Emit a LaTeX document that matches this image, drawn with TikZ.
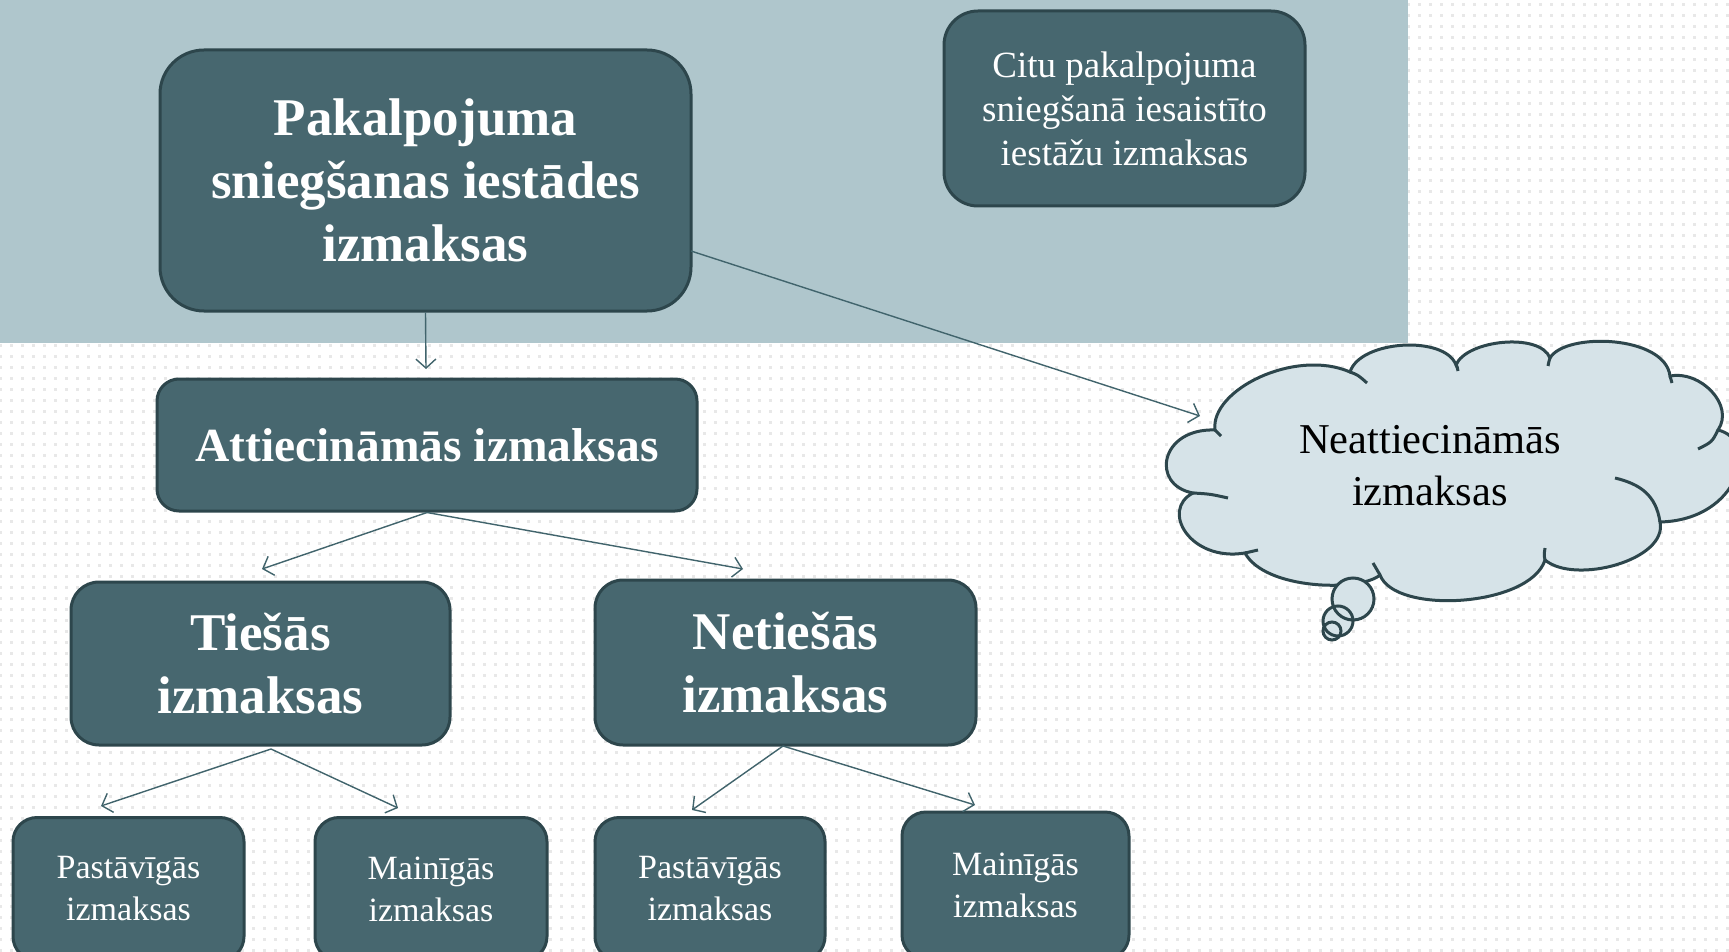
\documentclass[tikz,border=0pt]{standalone}
\usepackage{fontspec}
\setmainfont{Liberation Serif}
\usetikzlibrary{arrows.meta,patterns.meta}
\definecolor{boxfill}{HTML}{47676F}
\definecolor{boxline}{HTML}{2D464C}
\definecolor{band}{HTML}{AFC6CC}
\definecolor{cloudfill}{HTML}{D6E3E8}
\definecolor{arrowcol}{HTML}{41646C}
\tikzdeclarepattern{
  name=pxdots,
  type=uncolored,
  bottom left={(0pt,0pt)},
  top right={(11pt,11pt)},
  tile size={(11pt,11pt)},
  code={\pgfpathrectangle{\pgfpointorigin}{\pgfpoint{3pt}{3pt}}\pgfusepath{fill}}
}
\tikzset{
  costbox/.style={draw=boxline, line width=3pt, fill=boxfill, rounded corners=#1, text=white, align=center, inner sep=0pt},
  costbox/.default=24pt,
  bigtxt/.style={font=\fontsize{53}{63}\selectfont\bfseries},
  smalltxt/.style={font=\fontsize{34}{42}\selectfont},
  conn/.style={draw=arrowcol, line width=1.4pt, -{Straight Barb[length=9pt,width=20pt,line width=1.4pt]}},
  cloudline/.style={draw=boxline, line width=3pt},
}
\begin{document}
\begin{tikzpicture}[x=1pt,y=-1pt]
\useasboundingbox (0,0) rectangle (1729,952);
\fill[white] (0,0) rectangle (1729,952);
\fill[pattern=pxdots, pattern color=black!9] (0,0) rectangle (1729,952);
\fill[band] (0,0) rectangle (1408,343);

\node[costbox=44pt, bigtxt, minimum width=531pt, minimum height=261pt] (main) at (425.5,180.5)
  {Pakalpojuma\\ sniegšanas iestādes\\ izmaksas};
\node[costbox=34pt, font=\fontsize{37}{44}\selectfont, minimum width=361pt, minimum height=195pt] (citu) at (1124.5,108.5)
  {Citu pakalpojuma\\ sniegšanā iesaistīto\\ iestāžu izmaksas};
\node[costbox=22pt, font=\fontsize{47.5}{52}\selectfont\bfseries, minimum width=540pt, minimum height=132pt] (attie) at (427,445)
  {Attiecināmās izmaksas};
\node[costbox=28pt, bigtxt, minimum width=379pt, minimum height=163pt] (tiesas) at (260.5,663.5)
  {Tiešās\\ izmaksas};
\node[costbox=28pt, bigtxt, minimum width=381pt, minimum height=165pt] (netiesas) at (785.5,662.5)
  {Netiešās\\ izmaksas};
\node[costbox=24pt, smalltxt, minimum width=231pt, minimum height=143pt] (p1) at (128.5,889)
  {Pastāvīgās\\ izmaksas};
\node[costbox=24pt, smalltxt, minimum width=232pt, minimum height=143pt] (m1) at (431,889)
  {Mainīgās\\ izmaksas};
\node[costbox=24pt, smalltxt, minimum width=230pt, minimum height=143pt] (p2) at (710,889)
  {Pastāvīgās\\ izmaksas};
\node[costbox=24pt, smalltxt, minimum width=227pt, minimum height=147pt] (m2) at (1015.5,885.5)
  {Mainīgās\\ izmaksas};

% cloud outline
\coordinate (J1) at (1215,430);
\coordinate (J2) at (1350,372);
\coordinate (J3) at (1456,365);
\coordinate (J4) at (1550,358);
\coordinate (J5) at (1670,376);
\coordinate (J6) at (1718,430);
\coordinate (J7) at (1660,522);
\coordinate (J8) at (1545,560);
\coordinate (J9) at (1380,575);
\coordinate (J10) at (1245,553);
\coordinate (J11) at (1193,493);
\path[cloudline, fill=cloudfill] (J1)
  .. controls (1210,390) and (1295,348) .. (J2)
  .. controls (1360,340) and (1445,335) .. (J3)
  .. controls (1466,340) and (1540,332) .. (J4)
  .. controls (1565,332) and (1665,335) .. (J5)
  .. controls (1700,370) and (1735,405) .. (J6)
  .. controls (1760,440) and (1740,520) .. (J7)
  .. controls (1668,560) and (1575,585) .. (J8)
  .. controls (1530,607) and (1395,615) .. (J9)
  .. controls (1360,592) and (1265,590) .. (J10)
  .. controls (1190,562) and (1160,510) .. (J11)
  .. controls (1150,485) and (1160,428) .. (J1) -- cycle;
% inner arc stubs
\draw[cloudline] (J2) .. controls (1358,375) .. (1367,383);
\draw[cloudline] (J3) .. controls (1457,366) .. (1458,371);
\draw[cloudline] (J4) .. controls (1549,361) .. (1548,366);
\draw[cloudline] (J5) .. controls (1671,379) .. (1672,383);
\draw[cloudline] (J6) .. controls (1712,442) .. (1698,449);
\draw[cloudline] (J7) .. controls (1656,495) and (1640,484) .. (1615,478);
\draw[cloudline] (J8) .. controls (1544,555) .. (1545,548);
\draw[cloudline] (J9) .. controls (1376,569) .. (1373,563);
\draw[cloudline] (J10) .. controls (1251,551) .. (1258,550);
\draw[cloudline] (J11) .. controls (1210,494) .. (1228,498);
\draw[cloudline] (J1) .. controls (1217,432) .. (1221,436);

\node[align=center, text=black, font=\fontsize{42.5}{52}\selectfont] (cltext) at (1430,466) {Neattiecināmās\\ izmaksas};

% thought bubbles
\fill[cloudfill] (1353,599) circle[radius=21];
\fill[cloudfill] (1338,621) circle[radius=15];
\fill[cloudfill] (1332,631) circle[radius=9];
\draw[cloudline] (1353,599) circle[radius=21];
\draw[cloudline] (1338,621) circle[radius=15];
\draw[cloudline] (1332,631) circle[radius=9];

\coordinate (e1) at (426,369);
\coordinate (e2) at (1200,416);
\coordinate (s2) at (691,251);
\coordinate (e3) at (262,569);
\coordinate (e4) at (743,569);
\coordinate (s5) at (271,749);
\coordinate (e5) at (101,806);
\coordinate (e6) at (398,808);
\coordinate (s7) at (783,746);
\coordinate (e7) at (692,810);
\coordinate (e8) at (975,805);

\draw[conn] (main.south) -- (e1);
\draw[conn] (s2) -- (e2);
\draw[conn] (attie.south) -- (e3);
\draw[conn] (attie.south) -- (e4);
\draw[conn] (s5) -- (e5);
\draw[conn] (s5) -- (e6);
\draw[conn] (s7) -- (e7);
\draw[conn] (s7) -- (e8);
\end{tikzpicture}
\end{document}
